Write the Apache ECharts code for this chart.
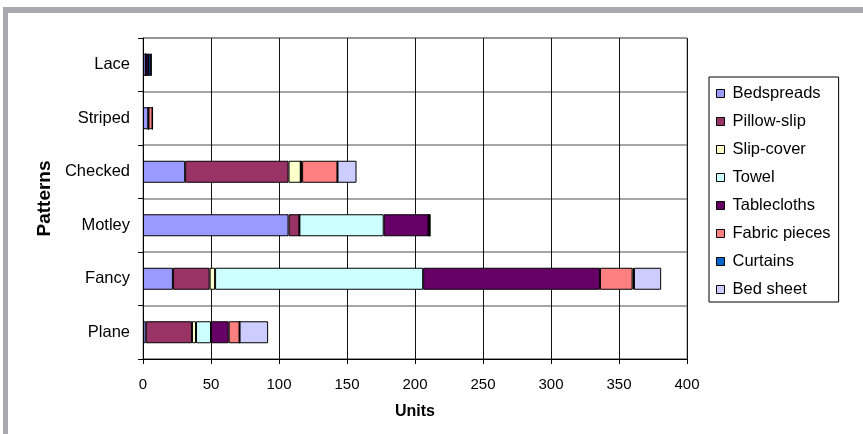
<!DOCTYPE html>
<html>
<head>
<meta charset="utf-8">
<script src="https://cdn.jsdelivr.net/npm/echarts@6/dist/echarts.min.js"></script>
<style>
html,body{margin:0;padding:0;background:#fff;}
#chart{width:863px;height:434px;}
</style>
</head>
<body>
<div id="chart"></div>
<script>
const categories = ['Lace', 'Striped', 'Checked', 'Motley', 'Fancy', 'Plane'];
const seriesNames = ['Bedspreads', 'Pillow-slip', 'Slip-cover', 'Towel', 'Tablecloths', 'Fabric pieces', 'Curtains', 'Bed sheet'];
const bedspreads   = [2, 4, 31, 107, 22, 2];
const pillowSlip   = [0, 0, 76, 8, 27, 34];
const slipCover    = [0, 0, 9, 0, 4, 3];
const towel        = [0, 0, 0, 62, 153, 11];
const tablecloths  = [2, 0, 1, 33, 130, 13];
const fabricPieces = [0, 3, 26, 0, 24, 8];
const curtains     = [2, 0, 0, 1, 1, 0];
const bedSheet     = [0, 0, 14, 0, 20, 21];
const xTicks = [0, 50, 100, 150, 200, 250, 300, 350, 400];

const values = [bedspreads, pillowSlip, slipCover, towel, tablecloths, fabricPieces, curtains, bedSheet];
const colors = ['#9999FF', '#993366', '#FFFFCC', '#CCFFFF', '#660066', '#FF8080', '#0066CC', '#CCCCFF'];

const chart = echarts.init(document.getElementById('chart'), null, {renderer: 'canvas'});
const font = 'Arial, "Liberation Sans", sans-serif';

chart.setOption({
  animation: false,
  backgroundColor: '#fff',
  textStyle: {fontFamily: font},
  graphic: [
    {type: 'rect', left: 3, top: 7, shape: {width: 860, height: 6}, style: {fill: '#a9a9ad'}, silent: true},
    {type: 'rect', left: 3, top: 7, shape: {width: 5, height: 427}, style: {fill: '#a9a9ad'}, silent: true}
  ],
  grid: {left: 143, right: 176, top: 38, bottom: 75, show: true, borderColor: '#888', borderWidth: 1, containLabel: false},
  legend: {
    orient: 'vertical', left: 709, top: 77,
    data: seriesNames,
    icon: 'rect', itemWidth: 8, itemHeight: 8, itemGap: 11,
    padding: [8, 8, 4, 7],
    borderColor: '#000', borderWidth: 1,
    itemStyle: {borderColor: '#000', borderWidth: 1},
    textStyle: {fontSize: 16.5, color: '#000', fontFamily: font, lineHeight: 16, padding: [0, 0, 0, 3]}
  },
  xAxis: {
    type: 'value', min: 0, max: 400, interval: 50,
    name: 'Units', nameLocation: 'middle', nameGap: 45,
    nameTextStyle: {fontSize: 16, fontWeight: 'bold', color: '#000', fontFamily: font},
    axisLine: {show: true, lineStyle: {color: '#000', width: 1}},
    axisTick: {show: true, length: 5, lineStyle: {color: '#000'}},
    axisLabel: {fontSize: 15, color: '#000', margin: 18, fontFamily: font,
      formatter: v => xTicks.indexOf(v) >= 0 ? String(v) : ''},
    splitLine: {show: true, lineStyle: {color: '#111', width: 1}}
  },
  yAxis: {
    type: 'category', data: categories, inverse: true,
    name: 'Patterns', nameLocation: 'middle', nameGap: 80, nameRotate: 90,
    nameTextStyle: {fontSize: 19, fontWeight: 'bold', color: '#000', fontFamily: font},
    axisLine: {show: true, lineStyle: {color: '#000', width: 1}},
    axisTick: {show: true, length: 5, alignWithLabel: false, lineStyle: {color: '#000'}},
    axisLabel: {fontSize: 16.5, color: '#000', margin: 13, fontFamily: font},
    splitLine: {show: true, lineStyle: {color: '#888', width: 1.5}}
  },
  series: seriesNames.map((name, i) => ({
    name: name, type: 'bar', stack: 'total', barWidth: 22,
    data: values[i],
    itemStyle: {color: colors[i], borderColor: '#000', borderWidth: 1}
  }))
});
</script>
</body>
</html>
